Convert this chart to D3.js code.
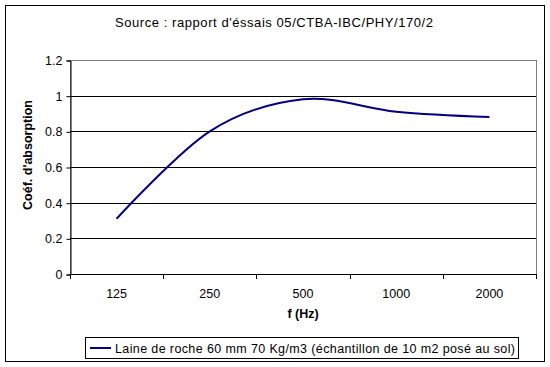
<!DOCTYPE html>
<html lang="fr">
<head>
    <meta charset="UTF-8">
    <title>Coef_absorption</title>
    <style>
        body { margin: 0; background: #fff; }
        svg { display: block; font-family: "Liberation Sans", Arial, sans-serif; }
        .tick-label { font-size: 12.5px; fill: #000; }
        .axis-title { font-size: 12.5px; font-weight: bold; fill: #000; }
    </style>
</head>
<body>
    <svg id="chart" width="550" height="367"></svg>

    <script src="https://d3js.org/d3.v7.min.js"></script>
    <script>
        // Données
        const frequences = ["125", "250", "500", "1000", "2000"];
        const coefficients = [0.31, 0.80, 0.98, 0.91, 0.88];
        const ticksY = [0, 0.2, 0.4, 0.6, 0.8, 1, 1.2];
        const titre = "Source : rapport d'éssais 05/CTBA-IBC/PHY/170/2";
        const nomSerie = "Laine de roche 60 mm 70 Kg/m3 (échantillon de 10 m2 posé au sol)";

        const plot = { left: 70, right: 536, top: 60, bottom: 274 };

        const svg = d3.select("#chart");

        // Cadre extérieur
        svg.append("rect")
            .attr("x", 5.5).attr("y", 5.5)
            .attr("width", 539).attr("height", 356)
            .attr("fill", "#fff")
            .attr("stroke", "#000");

        const escala_x = d3.scaleBand()
            .domain(frequences)
            .range([plot.left, plot.right]);

        const escala_y = d3.scaleLinear()
            .domain([0, 1.2])
            .range([plot.bottom, plot.top]);

        // Bordure grise de la zone de tracé
        svg.append("rect")
            .attr("x", plot.left + 0.5).attr("y", escala_y(1.2) + 0.5)
            .attr("width", plot.right - plot.left)
            .attr("height", plot.bottom - escala_y(1.2))
            .attr("fill", "none")
            .attr("stroke", "#808080");

        // Quadrillage horizontal
        svg.selectAll(".grid")
            .data(ticksY.filter(d => d > 0 && d < 1.2))
            .enter()
            .append("line")
            .attr("x1", plot.left)
            .attr("x2", plot.right)
            .attr("y1", d => Math.round(escala_y(d)) + 0.5)
            .attr("y2", d => Math.round(escala_y(d)) + 0.5)
            .attr("stroke", "#000");

        // Axe Y
        const axeY = svg.append("g")
            .attr("transform", `translate(${plot.left + 0.5},0.5)`)
            .call(d3.axisLeft(escala_y).tickValues(ticksY).tickSize(4).tickPadding(4)
                .tickFormat(d => d === 0 ? "0" : d3.format("")(d)));
        axeY.select(".domain").attr("stroke", "#000");
        axeY.selectAll("text").attr("class", "tick-label").style("font-size", "12.5px")
            .style("font-family", "'Liberation Sans', Arial, sans-serif");

        // Axe X (graduations aux bords des catégories)
        svg.append("line")
            .attr("x1", plot.left).attr("x2", plot.right + 1)
            .attr("y1", plot.bottom + 0.5).attr("y2", plot.bottom + 0.5)
            .attr("stroke", "#000");

        const bords = frequences.map(f => escala_x(f)).concat([plot.right]);
        svg.selectAll(".xtick")
            .data(bords)
            .enter()
            .append("line")
            .attr("x1", d => Math.round(d) + 0.5)
            .attr("x2", d => Math.round(d) + 0.5)
            .attr("y1", plot.bottom)
            .attr("y2", plot.bottom + 5)
            .attr("stroke", "#000");

        svg.selectAll(".xlabel")
            .data(frequences)
            .enter()
            .append("text")
            .attr("class", "tick-label")
            .attr("x", d => escala_x(d) + escala_x.bandwidth() / 2)
            .attr("y", 298)
            .attr("text-anchor", "middle")
            .text(d => d);

        // Titres
        svg.append("text")
            .attr("x", 115)
            .attr("y", 26.5)
            .attr("textLength", 318)
            .attr("lengthAdjust", "spacing")
            .style("font-size", "13px")
            .text(titre);

        svg.append("text")
            .attr("class", "axis-title")
            .attr("x", (plot.left + plot.right) / 2)
            .attr("y", 318)
            .attr("text-anchor", "middle")
            .text("f (Hz)");

        svg.append("text")
            .attr("class", "axis-title")
            .attr("transform", "translate(31.5,155) rotate(-90)")
            .attr("text-anchor", "middle")
            .text("Coéf. d'absorption");

        // Courbe lissée
        const ligne = d3.line()
            .x((d, i) => escala_x(frequences[i]) + escala_x.bandwidth() / 2)
            .y(d => escala_y(d))
            .curve(d3.curveCatmullRom.alpha(0));

        svg.append("path")
            .datum(coefficients)
            .attr("d", ligne)
            .attr("fill", "none")
            .attr("stroke", "#000080")
            .attr("stroke-width", 2);

        // Légende
        const legende = svg.append("g");
        legende.append("rect")
            .attr("x", 85.5).attr("y", 337.5)
            .attr("width", 433).attr("height", 21)
            .attr("fill", "#fff")
            .attr("stroke", "#000");
        legende.append("line")
            .attr("x1", 90).attr("x2", 111)
            .attr("y1", 348).attr("y2", 348)
            .attr("stroke", "#000080")
            .attr("stroke-width", 2);
        legende.append("text")
            .attr("class", "tick-label")
            .attr("x", 115)
            .attr("y", 352.5)
            .attr("textLength", 400)
            .attr("lengthAdjust", "spacing")
            .text(nomSerie);
    </script>
</body>
</html>
